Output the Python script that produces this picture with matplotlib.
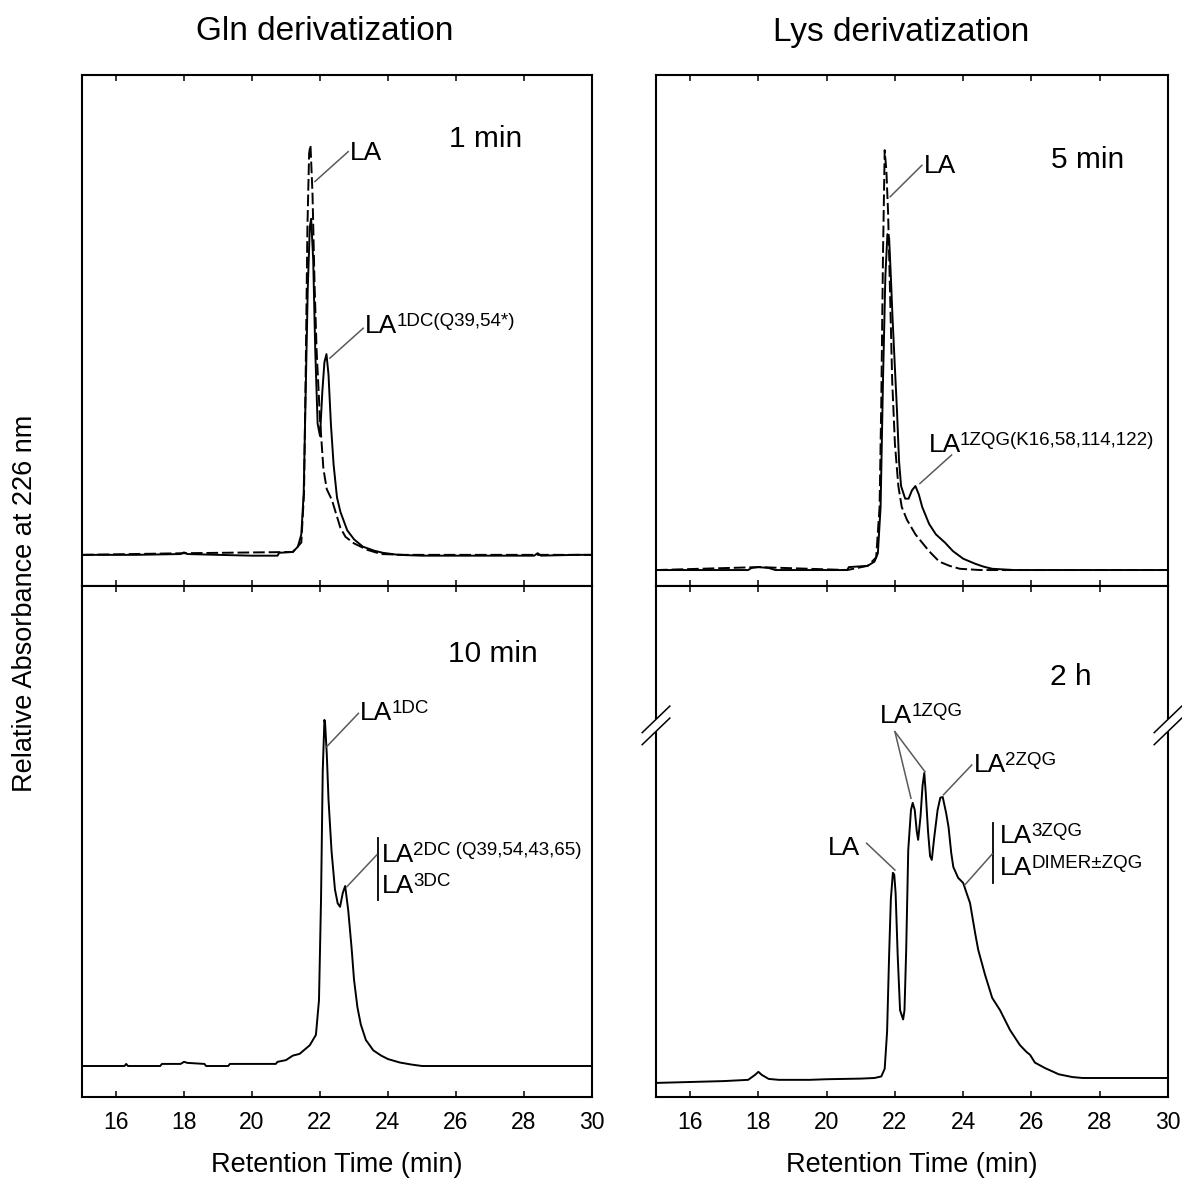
import matplotlib
matplotlib.use("Agg")
import matplotlib.pyplot as plt
from matplotlib.patches import Polygon

plt.rcParams["font.family"] = ["Liberation Sans", "DejaVu Sans"]

# ---- data (retention time, relative absorbance) ----
# Gln derivatization, 1 min (solid) and underivatized LA (dashed)
gln1_t = [15.0, 16.6, 17.9, 18.0, 18.1, 19.0, 20.0, 20.75, 20.8, 21.2, 21.35, 21.45,
          21.52, 21.58, 21.64, 21.7, 21.74, 21.8, 21.86, 21.93, 22.0, 22.07, 22.13,
          22.19, 22.25, 22.32, 22.4, 22.5, 22.6, 22.8, 23.0, 23.26, 23.6, 23.85, 24.3,
          25.0, 28.3, 28.4, 28.5, 29.5, 30.0]
gln1_y = [0.0, 0.0, 0.002, 0.006, 0.002, 0.0, -0.002, -0.002, 0.005, 0.007, 0.02, 0.05,
          0.15, 0.4, 0.65, 0.8, 0.82, 0.72, 0.5, 0.32, 0.29, 0.40, 0.47,
          0.49, 0.44, 0.32, 0.22, 0.14, 0.105, 0.06, 0.038, 0.02, 0.01, 0.005, 0.0,
          -0.002, -0.002, 0.004, -0.002, 0.0, 0.0]
gln1_ref_t = [15.0, 18.0, 21.2, 21.45, 21.53, 21.58, 21.63, 21.68, 21.72, 21.78, 21.84,
              21.9, 22.0, 22.1, 22.2, 22.35, 22.6, 22.75, 23.0, 23.4, 23.8, 24.5, 30.0]
gln1_ref_y = [0.0, 0.004, 0.007, 0.03, 0.15, 0.45, 0.8, 0.98, 1.0, 0.88, 0.66,
              0.5, 0.33, 0.21, 0.16, 0.134, 0.066, 0.044, 0.028, 0.012, 0.002, 0.0, 0.0]

# Lys derivatization, 5 min (solid) and underivatized LA (dashed)
lys5_t = [15.0, 17.7, 17.8, 18.0, 18.3, 18.5, 20.6, 20.65, 21.2, 21.4, 21.5, 21.58,
          21.65, 21.72, 21.78, 21.83, 21.88, 21.93, 22.0, 22.06, 22.12, 22.18, 22.3,
          22.4, 22.5, 22.6, 22.7, 22.8, 23.0, 23.2, 23.47, 23.7, 24.0, 24.35, 24.6,
          24.85, 25.5, 30.0]
lys5_y = [0.0, 0.0, 0.005, 0.007, 0.005, 0.0, 0.0, 0.007, 0.01, 0.02, 0.04, 0.15,
          0.45, 0.7, 0.8, 0.79, 0.7, 0.6, 0.48, 0.38, 0.26, 0.2, 0.17,
          0.17, 0.19, 0.2, 0.18, 0.15, 0.11, 0.085, 0.065, 0.045, 0.027, 0.015, 0.008,
          0.003, 0.0, 0.0]
lys5_ref_t = [15.0, 18.0, 20.6, 21.2, 21.45, 21.55, 21.6, 21.65, 21.7, 21.75, 21.8,
              21.86, 21.92, 22.0, 22.1, 22.2, 22.35, 22.6, 22.8, 23.0, 23.3, 23.6,
              23.9, 24.5, 30.0]
lys5_ref_y = [0.0, 0.007, 0.0, 0.01, 0.03, 0.15, 0.4, 0.75, 1.0, 0.95, 0.85,
              0.65, 0.45, 0.3, 0.2, 0.15, 0.12, 0.085, 0.065, 0.045, 0.02, 0.01,
              0.003, 0.0, 0.0]

# Gln derivatization, 10 min
gln10_t = [15.0, 16.25, 16.3, 16.35, 17.3, 17.35, 17.9, 18.0, 18.1, 18.6, 18.65, 19.3,
           19.35, 20.7, 20.75, 21.0, 21.2, 21.4, 21.7, 21.88, 21.97, 22.03, 22.08,
           22.13, 22.15, 22.2, 22.25, 22.34, 22.44, 22.52, 22.59, 22.67, 22.74,
           22.83, 22.93, 23.0, 23.1, 23.2, 23.35, 23.57, 23.8, 24.0, 24.35, 24.7, 25.0, 30.0]
gln10_y = [0.0, 0.0, 0.006, 0.0, 0.0, 0.006, 0.006, 0.012, 0.009, 0.006, 0.0, 0.0,
           0.006, 0.006, 0.012, 0.017, 0.03, 0.035, 0.06, 0.09, 0.19, 0.48, 0.85,
           1.0, 0.99, 0.9, 0.77, 0.62, 0.51, 0.47, 0.46, 0.5, 0.52,
           0.45, 0.34, 0.25, 0.17, 0.12, 0.075, 0.045, 0.03, 0.02, 0.01, 0.004, 0.0, 0.0]

# Lys derivatization, 2 h
lys2h_t = [15.0, 16.0, 17.0, 17.7, 17.9, 18.0, 18.1, 18.3, 18.6, 19.5, 20.0, 20.5, 21.0,
           21.4, 21.6, 21.7, 21.77, 21.83, 21.88, 21.94, 21.98, 22.02, 22.08, 22.15,
           22.24, 22.28, 22.33, 22.39, 22.47, 22.52, 22.58, 22.64, 22.68, 22.75, 22.81,
           22.86, 22.9, 22.97, 23.03, 23.08, 23.15, 23.25, 23.33, 23.4, 23.5, 23.57,
           23.65, 23.71, 23.85, 24.0, 24.1, 24.2, 24.35, 24.44, 24.64, 24.85, 25.08,
           25.37, 25.66, 25.85, 25.96, 26.1, 26.4, 26.8, 27.2, 27.5, 30.0]
lys2h_y = [-0.016, -0.013, -0.01, -0.006, 0.01, 0.02, 0.01, -0.003, -0.006, -0.006,
           -0.004, -0.003, -0.002, 0.0, 0.005, 0.03, 0.15, 0.4, 0.58, 0.666, 0.66, 0.6,
           0.4, 0.22, 0.19, 0.22, 0.416, 0.74, 0.87, 0.893, 0.87, 0.8, 0.773, 0.85,
           0.95, 0.99, 0.93, 0.8, 0.72, 0.708, 0.78, 0.87, 0.91, 0.912, 0.86, 0.815,
           0.73, 0.685, 0.65, 0.633, 0.6, 0.568, 0.47, 0.416, 0.335, 0.26, 0.22,
           0.156, 0.107, 0.085, 0.075, 0.05, 0.032, 0.012, 0.003, 0.0, 0.0]

x_ticks = [16, 18, 20, 22, 24, 26, 28, 30]
col_titles = ["Gln derivatization", "Lys derivatization"]
panel_tags = ["1 min", "5 min", "10 min", "2 h"]

# ---- layout ----
W = H = 1182
fig = plt.figure(figsize=(W / 100, H / 100), dpi=100)
cols = [(82, 592), (656, 1168)]
rows = [(75, 586), (586, 1097)]


def make_ax(c, r):
    x0, x1 = cols[c]
    y0, y1 = rows[r]
    return fig.add_axes([x0 / W, 1 - y1 / H, (x1 - x0) / W, (y1 - y0) / H])


ax_tl, ax_tr = make_ax(0, 0), make_ax(1, 0)
ax_bl, ax_br = make_ax(0, 1), make_ax(1, 1)
ylims = {ax_tl: (-0.076, 1.171), ax_tr: (-0.038, 1.179),
         ax_bl: (-0.0896, 1.387), ax_br: (-0.0617, 1.597)}

for ax in (ax_tl, ax_tr, ax_bl, ax_br):
    ax.set_xlim(15, 30)
    ax.set_ylim(*ylims[ax])
    ax.set_yticks([])
    ax.set_xticks(x_ticks)
    ax.tick_params(axis="x", direction="in", top=True, bottom=True, length=4.5,
                   width=1.1, labelsize=16.5, pad=10, colors="black")
    for s in ax.spines.values():
        s.set_linewidth(1.5)
for ax in (ax_tl, ax_tr):
    ax.tick_params(labelbottom=False)
for ax in (ax_bl, ax_br):
    ax.set_xlabel("Retention Time (min)", fontsize=19.5, labelpad=13)

LW = 1.4
ax_tl.plot(gln1_ref_t, gln1_ref_y, color="black", lw=LW, dashes=(6, 2))
ax_tl.plot(gln1_t, gln1_y, color="black", lw=LW)
ax_tr.plot(lys5_ref_t, lys5_ref_y, color="black", lw=LW, dashes=(6, 2))
ax_tr.plot(lys5_t, lys5_y, color="black", lw=LW)
ax_bl.plot(gln10_t, gln10_y, color="black", lw=LW)
ax_br.plot(lys2h_t, lys2h_y, color="black", lw=LW)

# ---- annotations ----
FS = 19
SUP = 13.5
GREY = "#5a5a5a"
renderer = fig.canvas.get_renderer()


def lead(ax, x1, y1, x2, y2):
    ax.plot([x1, x2], [y1, y2], color=GREY, lw=1.1)


def lab(ax, x, y, txt, sup=None, fs=FS):
    t = ax.text(x, y, txt, fontsize=fs, ha="left", va="baseline")
    if sup:
        w = t.get_window_extent(renderer).width * 72 / fig.dpi
        ax.annotate(sup, xy=(x, y), xytext=(w - 0.4, 5.0), textcoords="offset points",
                    fontsize=SUP, ha="left", va="baseline")


for ax, tag, (tx, ty) in zip((ax_tl, ax_tr, ax_bl, ax_br), panel_tags,
                             [(25.79, 0.995), (26.56, 0.957), (25.76, 1.168), (26.54, 1.276)]):
    lab(ax, tx, ty, tag, fs=21.5)

lead(ax_tl, 21.85, 0.911, 22.83, 0.984)
lab(ax_tl, 22.88, 0.963, "LA")
lead(ax_tl, 22.29, 0.48, 23.27, 0.553)
lab(ax_tl, 23.32, 0.541, "LA", "1DC(Q39,54*)")

lead(ax_tr, 21.86, 0.889, 22.79, 0.964)
lab(ax_tr, 22.85, 0.945, "LA")
lead(ax_tr, 22.73, 0.206, 23.66, 0.274)
lab(ax_tr, 22.98, 0.281, "LA", "1ZQG(K16,58,114,122)")

lead(ax_bl, 22.2, 0.923, 23.13, 1.019)
lab(ax_bl, 23.18, 1.0, "LA", "1DC")
ax_bl.plot([23.71, 23.71], [0.48, 0.658], color="black", lw=1.3)
lead(ax_bl, 22.79, 0.518, 23.67, 0.61)
lab(ax_bl, 23.81, 0.59, "LA", "2DC (Q39,54,43,65)")
lab(ax_bl, 23.81, 0.5, "LA", "3DC")

lab(ax_br, 21.56, 1.153, "LA", "1ZQG")
lead(ax_br, 22.0, 1.124, 22.47, 0.908)
lead(ax_br, 22.0, 1.124, 22.88, 0.994)
lead(ax_br, 23.42, 0.919, 24.25, 1.016)
lab(ax_br, 24.3, 0.994, "LA", "2ZQG")
lead(ax_br, 21.17, 0.762, 22.0, 0.675)
lab(ax_br, 20.05, 0.724, "LA")
ax_br.plot([24.87, 24.87], [0.632, 0.829], color="black", lw=1.3)
lead(ax_br, 24.05, 0.627, 24.85, 0.727)
lab(ax_br, 25.08, 0.763, "LA", "3ZQG")
lab(ax_br, 25.08, 0.659, "LA", "DIMER±ZQG")

# axis-break marks on the Lys 2 h panel
for xs in (0.0, 1.0):
    dx, dy, gap = 0.027, 0.026, 0.0235
    yc = 0.739
    p1 = [(xs - dx, yc - dy), (xs + dx, yc + dy)]
    p2 = [(xs - dx, yc - dy - gap), (xs + dx, yc + dy - gap)]
    ax_br.add_patch(Polygon(p1 + p2[::-1], closed=True, fc="white", ec="none",
                            transform=ax_br.transAxes, clip_on=False, zorder=5))
    for p in (p1, p2):
        ax_br.plot([p[0][0], p[1][0]], [p[0][1], p[1][1]], color="black", lw=1.1,
                   transform=ax_br.transAxes, clip_on=False, zorder=6)

# ---- titles ----
fig.text(325 / W, 1 - 32 / H, col_titles[0], fontsize=24, ha="center", va="center")
fig.text(901 / W, 1 - 32 / H, col_titles[1], fontsize=24, ha="center", va="center")
fig.text(25 / W, 1 - 603 / H, "Relative Absorbance at 226 nm", fontsize=19.5,
         rotation=90, ha="center", va="center")

fig.savefig("out.png", dpi=100)
